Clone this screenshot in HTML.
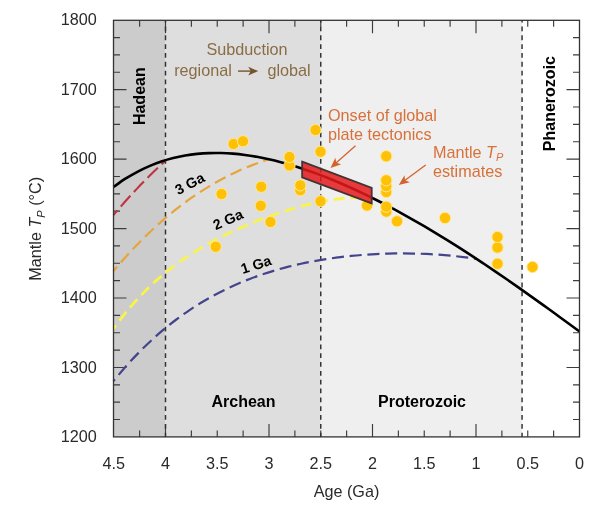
<!DOCTYPE html><html><head><meta charset="utf-8"><style>html,body{margin:0;padding:0;background:#fff}svg{display:block}</style></head><body><svg width="600" height="513" viewBox="0 0 600 513" font-family="'Liberation Sans', Arial, sans-serif">
<rect width="600" height="513" fill="#fff"/>
<rect x="113.5" y="20.3" width="52.0" height="416.6" fill="#cccccc"/>
<rect x="165.5" y="20.3" width="155.2" height="416.6" fill="#dedede"/>
<rect x="320.8" y="20.3" width="201.3" height="416.6" fill="#efefef"/>
<path d="M553.62 436.90 V430.40 M553.62 20.30 V26.80 M527.75 436.90 V430.40 M527.75 20.30 V26.80 M501.88 436.90 V430.40 M501.88 20.30 V26.80 M476.00 436.90 V423.90 M476.00 20.30 V33.30 M450.12 436.90 V430.40 M450.12 20.30 V26.80 M424.25 436.90 V430.40 M424.25 20.30 V26.80 M398.38 436.90 V430.40 M398.38 20.30 V26.80 M372.50 436.90 V423.90 M372.50 20.30 V33.30 M346.62 436.90 V430.40 M346.62 20.30 V26.80 M320.75 436.90 V430.40 M320.75 20.30 V26.80 M294.88 436.90 V430.40 M294.88 20.30 V26.80 M269.00 436.90 V423.90 M269.00 20.30 V33.30 M243.12 436.90 V430.40 M243.12 20.30 V26.80 M217.25 436.90 V430.40 M217.25 20.30 V26.80 M191.38 436.90 V430.40 M191.38 20.30 V26.80 M165.50 436.90 V423.90 M165.50 20.30 V33.30 M139.62 436.90 V430.40 M139.62 20.30 V26.80 M113.50 419.54 H120.00 M579.50 419.54 H573.00 M113.50 402.17 H120.00 M579.50 402.17 H573.00 M113.50 384.81 H120.00 M579.50 384.81 H573.00 M113.50 367.45 H126.50 M579.50 367.45 H566.50 M113.50 350.09 H120.00 M579.50 350.09 H573.00 M113.50 332.72 H120.00 M579.50 332.72 H573.00 M113.50 315.36 H120.00 M579.50 315.36 H573.00 M113.50 298.00 H126.50 M579.50 298.00 H566.50 M113.50 280.64 H120.00 M579.50 280.64 H573.00 M113.50 263.27 H120.00 M579.50 263.27 H573.00 M113.50 245.91 H120.00 M579.50 245.91 H573.00 M113.50 228.55 H126.50 M579.50 228.55 H566.50 M113.50 211.19 H120.00 M579.50 211.19 H573.00 M113.50 193.82 H120.00 M579.50 193.82 H573.00 M113.50 176.46 H120.00 M579.50 176.46 H573.00 M113.50 159.10 H126.50 M579.50 159.10 H566.50 M113.50 141.74 H120.00 M579.50 141.74 H573.00 M113.50 124.38 H120.00 M579.50 124.38 H573.00 M113.50 107.01 H120.00 M579.50 107.01 H573.00 M113.50 89.65 H126.50 M579.50 89.65 H566.50 M113.50 72.29 H120.00 M579.50 72.29 H573.00 M113.50 54.92 H120.00 M579.50 54.92 H573.00 M113.50 37.56 H120.00 M579.50 37.56 H573.00" stroke="#3c3c3c" stroke-width="1.15" fill="none"/>
<line x1="165.50" y1="20.3" x2="165.50" y2="436.9" stroke="#303030" stroke-width="1.45" stroke-dasharray="4.8 4.03" stroke-dashoffset="2.6"/>
<line x1="320.75" y1="20.3" x2="320.75" y2="436.9" stroke="#303030" stroke-width="1.45" stroke-dasharray="4.8 4.03" stroke-dashoffset="2.6"/>
<line x1="522.06" y1="20.3" x2="522.06" y2="436.9" stroke="#303030" stroke-width="1.45" stroke-dasharray="4.8 4.03" stroke-dashoffset="2.6"/>
<path d="M113.50 381.08 C115.58 378.62 121.83 371.01 126.00 366.31 C130.17 361.61 134.33 357.15 138.50 352.88 C142.67 348.61 146.83 344.57 151.00 340.70 C155.17 336.84 159.33 333.18 163.50 329.69 C167.67 326.20 171.83 322.90 176.00 319.75 C180.17 316.60 184.33 313.63 188.50 310.80 C192.67 307.97 196.83 305.31 201.00 302.77 C205.17 300.23 209.33 297.85 213.50 295.58 C217.67 293.32 221.83 291.19 226.00 289.17 C230.17 287.15 234.33 285.26 238.50 283.47 C242.67 281.68 246.83 280.01 251.00 278.42 C255.17 276.84 259.33 275.37 263.50 273.98 C267.67 272.58 271.83 271.29 276.00 270.08 C280.17 268.86 284.33 267.73 288.50 266.68 C292.67 265.62 296.83 264.65 301.00 263.74 C305.17 262.83 309.33 262.00 313.50 261.23 C317.67 260.46 321.83 259.76 326.00 259.11 C330.17 258.47 334.33 257.88 338.50 257.36 C342.67 256.83 346.83 256.36 351.00 255.95 C355.17 255.53 359.33 255.17 363.50 254.86 C367.67 254.55 371.83 254.29 376.00 254.08 C380.17 253.87 384.33 253.71 388.50 253.61 C392.67 253.50 396.83 253.43 401.00 253.42 C405.17 253.41 409.33 253.45 413.50 253.54 C417.67 253.62 421.83 253.76 426.00 253.95 C430.17 254.14 434.33 254.37 438.50 254.67 C442.67 254.96 446.83 255.30 451.00 255.71 C455.17 256.11 459.33 256.57 463.50 257.08 C467.67 257.60 473.92 258.53 476.00 258.82" stroke="#44448c" stroke-width="2.2" fill="none" stroke-dasharray="12.1 5.7" stroke-dashoffset="9.7"/>
<path d="M113.50 328.71 C114.99 326.73 119.45 320.59 122.43 316.80 C125.41 313.00 128.39 309.40 131.36 305.95 C134.34 302.50 137.32 299.22 140.29 296.08 C143.27 292.93 146.25 289.95 149.22 287.08 C152.20 284.21 155.18 281.49 158.16 278.87 C161.13 276.25 164.11 273.76 167.09 271.36 C170.06 268.96 173.04 266.68 176.02 264.48 C178.99 262.28 181.97 260.18 184.95 258.15 C187.93 256.13 190.90 254.19 193.88 252.32 C196.86 250.45 199.83 248.66 202.81 246.92 C205.79 245.19 208.76 243.52 211.74 241.91 C214.72 240.29 217.70 238.74 220.67 237.23 C223.65 235.73 226.63 234.27 229.60 232.86 C232.58 231.45 235.56 230.09 238.53 228.76 C241.51 227.44 244.49 226.16 247.47 224.91 C250.44 223.66 253.42 222.45 256.40 221.28 C259.37 220.11 262.35 218.97 265.33 217.87 C268.30 216.77 271.28 215.70 274.26 214.67 C277.24 213.64 280.21 212.64 283.19 211.68 C286.17 210.72 289.14 209.80 292.12 208.91 C295.10 208.03 298.07 207.18 301.05 206.37 C304.03 205.57 307.01 204.80 309.98 204.09 C312.96 203.37 315.94 202.70 318.91 202.08 C321.89 201.47 324.87 200.90 327.84 200.39 C330.82 199.89 333.80 199.43 336.78 199.05 C339.75 198.67 342.73 198.35 345.71 198.11 C348.68 197.88 351.66 197.70 354.64 197.63 C357.61 197.55 360.59 197.55 363.57 197.65 C366.55 197.76 371.01 198.15 372.50 198.25" stroke="#f8f44a" stroke-width="2.7" fill="none" stroke-dasharray="11 5.8" stroke-dashoffset="6.8"/>
<path d="M113.50 271.00 C114.39 269.95 117.07 266.76 118.86 264.70 C120.65 262.63 122.44 260.59 124.22 258.59 C126.01 256.59 127.80 254.62 129.59 252.69 C131.37 250.75 133.16 248.85 134.95 246.98 C136.74 245.11 138.52 243.27 140.31 241.46 C142.10 239.65 143.89 237.88 145.67 236.13 C147.46 234.38 149.25 232.67 151.03 230.99 C152.82 229.30 154.61 227.65 156.40 226.02 C158.18 224.40 159.97 222.81 161.76 221.24 C163.55 219.68 165.33 218.15 167.12 216.64 C168.91 215.14 170.70 213.66 172.48 212.21 C174.27 210.77 176.06 209.35 177.84 207.96 C179.63 206.57 181.42 205.20 183.21 203.87 C184.99 202.54 186.78 201.23 188.57 199.95 C190.36 198.67 192.14 197.42 193.93 196.19 C195.72 194.97 197.51 193.77 199.29 192.60 C201.08 191.43 202.87 190.28 204.66 189.16 C206.44 188.04 208.23 186.95 210.02 185.88 C211.80 184.81 213.59 183.77 215.38 182.75 C217.17 181.73 218.95 180.74 220.74 179.77 C222.53 178.80 224.32 177.86 226.10 176.94 C227.89 176.02 229.68 175.13 231.47 174.25 C233.25 173.38 235.04 172.53 236.83 171.71 C238.61 170.88 240.40 170.08 242.19 169.30 C243.98 168.52 245.76 167.77 247.55 167.03 C249.34 166.30 251.13 165.58 252.91 164.89 C254.70 164.20 256.49 163.53 258.28 162.89 C260.06 162.24 261.85 161.61 263.64 161.01 C265.43 160.40 268.11 159.55 269.00 159.25" stroke="#e6a53c" stroke-width="2.2" fill="none" stroke-dasharray="12 5.7" stroke-dashoffset="6.5"/>
<path d="M113.50 215.00 C113.80 214.65 114.70 213.59 115.29 212.88 C115.89 212.18 116.49 211.48 117.09 210.78 C117.68 210.09 118.28 209.39 118.88 208.70 C119.48 208.01 120.07 207.32 120.67 206.64 C121.27 205.95 121.87 205.27 122.47 204.59 C123.06 203.91 123.66 203.24 124.26 202.56 C124.86 201.89 125.45 201.22 126.05 200.55 C126.65 199.88 127.25 199.22 127.84 198.56 C128.44 197.89 129.04 197.24 129.64 196.58 C130.24 195.92 130.83 195.27 131.43 194.62 C132.03 193.97 132.63 193.32 133.22 192.68 C133.82 192.03 134.42 191.39 135.02 190.76 C135.61 190.12 136.21 189.48 136.81 188.85 C137.41 188.22 138.01 187.59 138.60 186.96 C139.20 186.33 139.80 185.71 140.40 185.09 C140.99 184.47 141.59 183.85 142.19 183.23 C142.79 182.62 143.39 182.01 143.98 181.40 C144.58 180.79 145.18 180.18 145.78 179.58 C146.37 178.97 146.97 178.37 147.57 177.78 C148.17 177.18 148.76 176.58 149.36 175.99 C149.96 175.40 150.56 174.81 151.16 174.22 C151.75 173.64 152.35 173.06 152.95 172.48 C153.55 171.90 154.14 171.32 154.74 170.74 C155.34 170.17 155.94 169.60 156.53 169.03 C157.13 168.46 157.73 167.90 158.33 167.33 C158.93 166.77 159.52 166.21 160.12 165.65 C160.72 165.10 161.32 164.54 161.91 163.99 C162.51 163.44 163.11 162.89 163.71 162.35 C164.30 161.80 165.20 160.99 165.50 160.72" stroke="#be3440" stroke-width="2.1" fill="none" stroke-dasharray="14.5 5.1" stroke-dashoffset="8.4"/>
<path d="M113.50 186.94 C115.49 185.57 121.47 181.23 125.45 178.71 C129.43 176.18 133.41 173.89 137.40 171.79 C141.38 169.70 145.36 167.82 149.35 166.11 C153.33 164.41 157.31 162.91 161.29 161.57 C165.28 160.23 169.26 159.07 173.24 158.07 C177.23 157.06 181.21 156.23 185.19 155.54 C189.18 154.84 193.16 154.31 197.14 153.90 C201.12 153.49 205.11 153.23 209.09 153.08 C213.07 152.93 217.06 152.92 221.04 153.02 C225.02 153.12 229.00 153.34 232.99 153.66 C236.97 153.98 240.95 154.41 244.94 154.94 C248.92 155.46 252.90 156.10 256.88 156.81 C260.87 157.53 264.85 158.34 268.83 159.24 C272.82 160.13 276.80 161.11 280.78 162.16 C284.76 163.22 288.75 164.36 292.73 165.56 C296.71 166.77 300.70 168.05 304.68 169.40 C308.66 170.74 312.65 172.16 316.63 173.64 C320.61 175.11 324.59 176.65 328.58 178.25 C332.56 179.85 336.54 181.51 340.53 183.22 C344.51 184.93 348.49 186.70 352.47 188.51 C356.46 190.33 360.44 192.20 364.42 194.12 C368.41 196.03 372.39 198.00 376.37 200.01 C380.35 202.02 384.34 204.08 388.32 206.18 C392.30 208.28 396.29 210.42 400.27 212.61 C404.25 214.79 408.24 217.02 412.22 219.28 C416.20 221.54 420.18 223.85 424.17 226.18 C428.15 228.52 432.13 230.90 436.12 233.31 C440.10 235.72 444.08 238.17 448.06 240.64 C452.05 243.12 456.03 245.63 460.01 248.18 C464.00 250.72 467.98 253.29 471.96 255.89 C475.94 258.49 479.93 261.13 483.91 263.78 C487.89 266.44 491.88 269.13 495.86 271.84 C499.84 274.55 503.82 277.28 507.81 280.04 C511.79 282.79 515.77 285.58 519.76 288.37 C523.74 291.17 527.72 293.99 531.71 296.83 C535.69 299.66 539.67 302.52 543.65 305.38 C547.64 308.25 551.62 311.13 555.60 314.02 C559.59 316.91 563.57 319.81 567.55 322.72 C571.53 325.62 577.51 329.99 579.50 331.45" stroke="#000" stroke-width="2.6" fill="none"/>
<circle cx="532.50" cy="267.00" r="5.65" fill="#ffc107" stroke="#ffea94" stroke-width="1"/>
<circle cx="497.50" cy="263.75" r="5.65" fill="#ffc107" stroke="#ffea94" stroke-width="1"/>
<circle cx="497.50" cy="247.50" r="5.65" fill="#ffc107" stroke="#ffea94" stroke-width="1"/>
<circle cx="215.75" cy="246.75" r="5.65" fill="#ffc107" stroke="#ffea94" stroke-width="1"/>
<circle cx="497.50" cy="237.00" r="5.65" fill="#ffc107" stroke="#ffea94" stroke-width="1"/>
<circle cx="270.50" cy="222.00" r="5.65" fill="#ffc107" stroke="#ffea94" stroke-width="1"/>
<circle cx="397.00" cy="221.25" r="5.65" fill="#ffc107" stroke="#ffea94" stroke-width="1"/>
<circle cx="445.00" cy="218.00" r="5.65" fill="#ffc107" stroke="#ffea94" stroke-width="1"/>
<circle cx="386.30" cy="211.60" r="5.65" fill="#ffc107" stroke="#ffea94" stroke-width="1"/>
<circle cx="386.30" cy="206.70" r="5.65" fill="#ffc107" stroke="#ffea94" stroke-width="1"/>
<circle cx="260.75" cy="205.75" r="5.65" fill="#ffc107" stroke="#ffea94" stroke-width="1"/>
<circle cx="367.00" cy="205.50" r="5.65" fill="#ffc107" stroke="#ffea94" stroke-width="1"/>
<circle cx="320.50" cy="201.25" r="5.65" fill="#ffc107" stroke="#ffea94" stroke-width="1"/>
<circle cx="221.50" cy="194.00" r="5.65" fill="#ffc107" stroke="#ffea94" stroke-width="1"/>
<circle cx="386.30" cy="192.00" r="5.65" fill="#ffc107" stroke="#ffea94" stroke-width="1"/>
<circle cx="300.30" cy="190.30" r="5.65" fill="#ffc107" stroke="#ffea94" stroke-width="1"/>
<circle cx="261.25" cy="186.75" r="5.65" fill="#ffc107" stroke="#ffea94" stroke-width="1"/>
<circle cx="386.30" cy="186.20" r="5.65" fill="#ffc107" stroke="#ffea94" stroke-width="1"/>
<circle cx="300.30" cy="185.30" r="5.65" fill="#ffc107" stroke="#ffea94" stroke-width="1"/>
<circle cx="386.30" cy="180.30" r="5.65" fill="#ffc107" stroke="#ffea94" stroke-width="1"/>
<circle cx="289.50" cy="165.50" r="5.65" fill="#ffc107" stroke="#ffea94" stroke-width="1"/>
<circle cx="289.50" cy="157.00" r="5.65" fill="#ffc107" stroke="#ffea94" stroke-width="1"/>
<circle cx="386.25" cy="156.25" r="5.65" fill="#ffc107" stroke="#ffea94" stroke-width="1"/>
<circle cx="320.50" cy="151.75" r="5.65" fill="#ffc107" stroke="#ffea94" stroke-width="1"/>
<circle cx="233.50" cy="144.00" r="5.65" fill="#ffc107" stroke="#ffea94" stroke-width="1"/>
<circle cx="243.00" cy="141.25" r="5.65" fill="#ffc107" stroke="#ffea94" stroke-width="1"/>
<circle cx="315.50" cy="130.00" r="5.65" fill="#ffc107" stroke="#ffea94" stroke-width="1"/>
<path d="M302.15 161.7 L371.7 187.9 L371.7 203.4 L302.15 177.3 Z" fill="#e41a1c" fill-opacity="0.85" stroke="#453232" stroke-width="1.8" stroke-linejoin="miter"/>
<rect x="113.5" y="20.3" width="466.0" height="416.6" fill="none" stroke="#333" stroke-width="1.3"/>
<g font-size="16.2" fill="#2a2a2a" text-anchor="middle">
<text x="579.5" y="469.4">0</text>
<text x="527.8" y="469.4">0.5</text>
<text x="476.0" y="469.4">1</text>
<text x="424.2" y="469.4">1.5</text>
<text x="372.5" y="469.4">2</text>
<text x="320.8" y="469.4">2.5</text>
<text x="269.0" y="469.4">3</text>
<text x="217.2" y="469.4">3.5</text>
<text x="165.5" y="469.4">4</text>
<text x="113.8" y="469.4">4.5</text>
</g>
<g font-size="16.2" fill="#2a2a2a" text-anchor="end">
<text x="96.8" y="442.1">1200</text>
<text x="96.8" y="372.6">1300</text>
<text x="96.8" y="303.2">1400</text>
<text x="96.8" y="233.7">1500</text>
<text x="96.8" y="164.3">1600</text>
<text x="96.8" y="94.8">1700</text>
<text x="96.8" y="25.4">1800</text>
</g>
<text x="346.5" y="496.7" font-size="16.2" fill="#2a2a2a" text-anchor="middle">Age (Ga)</text>
<text transform="translate(41.4 228.8) rotate(-90)" font-size="16.2" fill="#2a2a2a" text-anchor="middle">Mantle <tspan font-style="italic">T</tspan><tspan font-style="italic" font-size="11" dy="3.5">P</tspan><tspan dy="-3.5"> (°C)</tspan></text>
<g font-size="16" font-weight="bold" fill="#000">
<text x="243.5" y="407" text-anchor="middle">Archean</text>
<text x="422" y="407" text-anchor="middle">Proterozoic</text>
<text transform="translate(145 96.2) rotate(-90)" text-anchor="middle">Hadean</text>
<text transform="translate(555 103.6) rotate(-90)" text-anchor="middle">Phanerozoic</text>
<text transform="translate(192 188.1) rotate(-27.5)" text-anchor="middle" font-size="14.3">3 Ga</text>
<text transform="translate(230 224) rotate(-24)" text-anchor="middle" font-size="14.3">2 Ga</text>
<text transform="translate(257.6 269.3) rotate(-18)" text-anchor="middle" font-size="14.3">1 Ga</text>
</g>
<g font-size="16.2" fill="#8a6d45" text-anchor="middle">
<text x="247" y="54.5">Subduction</text>
<text x="203" y="76">regional</text>
<text x="289" y="76">global</text>
</g>
<path d="M238 71.1 H252" stroke="#75532c" stroke-width="1.4" fill="none"/><path d="M258.2 71.1 L248.2 66.8 L250.8 71.1 L248.2 75.4 Z" fill="#75532c"/>
<g font-size="16.2" fill="#d8703a">
<text x="328" y="120.7">Onset of global</text>
<text x="328" y="140.3">plate tectonics</text>
<text x="433" y="157.9">Mantle <tspan font-style="italic">T</tspan><tspan font-style="italic" font-size="11" dy="3.5">P</tspan></text>
<text x="433" y="176.9">estimates</text>
</g>
<g transform="translate(330.5 168) rotate(-41.7)"><path d="M33.5 0 H7" stroke="#d4622c" stroke-width="1.3" fill="none"/><path d="M0 0 L10.5 -4.5 L7.8 0 L10.5 4.5 Z" fill="#d4622c"/></g>
<g transform="translate(398.75 185) rotate(-36.5)"><path d="M33.5 0 H7" stroke="#d4622c" stroke-width="1.3" fill="none"/><path d="M0 0 L10.5 -4.5 L7.8 0 L10.5 4.5 Z" fill="#d4622c"/></g>
</svg></body></html>
